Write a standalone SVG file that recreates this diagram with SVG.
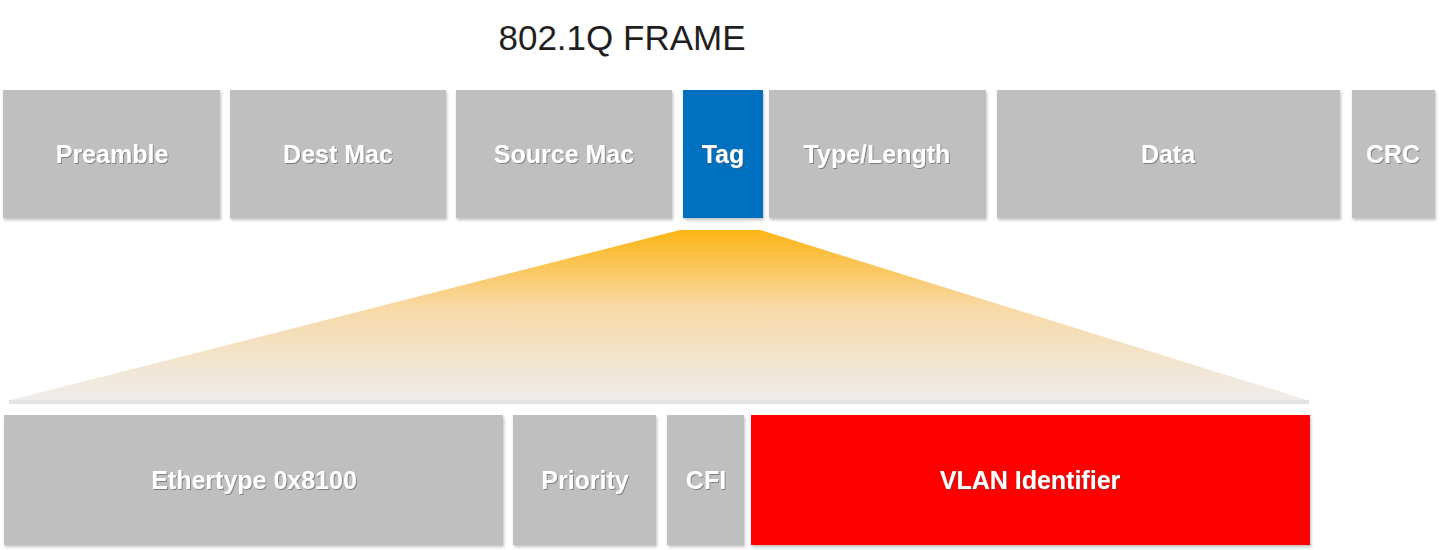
<svg xmlns="http://www.w3.org/2000/svg" width="1440" height="550" viewBox="0 0 1440 550">
  <defs>
    <linearGradient id="fan" x1="0" y1="0" x2="0" y2="1">
      <stop offset="0" stop-color="#FDB515"/>
      <stop offset="0.45" stop-color="#F8D9A6"/>
      <stop offset="1" stop-color="#EEEDEC"/>
    </linearGradient>
    <filter id="sh" x="-5%" y="-5%" width="110%" height="115%">
      <feDropShadow dx="1" dy="2" stdDeviation="1.5" flood-color="#000" flood-opacity="0.25"/>
    </filter>
    <filter id="ts" x="-10%" y="-20%" width="120%" height="140%">
      <feDropShadow dx="1" dy="1" stdDeviation="0.6" flood-color="#555" flood-opacity="0.6"/>
    </filter>
  </defs>
  <style>
    .box { filter: url(#sh); }
    .gray { fill: #BFBFBF; }
    .blue { fill: #0070C0; }
    .red { fill: #FF0000; }
    .lbl { font-family: "Liberation Sans", "Open Sans", sans-serif; font-weight: bold; font-size: 25px; fill: #FFFFFF; text-anchor: middle; filter: url(#ts); }
    .title { font-family: "Liberation Sans", "Open Sans", sans-serif; font-size: 35px; fill: #1F1F1F; text-anchor: middle; }
  </style>
  <rect width="1440" height="550" fill="#FFFFFF"/>

  <text class="title" x="622" y="50">802.1Q FRAME</text>

  <g id="connectors">
    <polygon points="680,230 760,230 1310,401 7,401" fill="url(#fan)"/>
    <rect x="9" y="400" width="1300" height="4" fill="#E3E3E3"/>
  </g>

  <g id="preamble">
    <rect class="box gray" x="3" y="90" width="217" height="128"/>
    <text class="lbl" x="112" y="163">Preamble</text>
  </g>
  <g id="dest-mac">
    <rect class="box gray" x="230" y="90" width="216" height="128"/>
    <text class="lbl" x="338" y="163">Dest Mac</text>
  </g>
  <g id="source-mac">
    <rect class="box gray" x="456" y="90" width="216" height="128"/>
    <text class="lbl" x="564" y="163">Source Mac</text>
  </g>
  <g id="tag">
    <rect class="box blue" x="683" y="90" width="80" height="128"/>
    <text class="lbl" x="723" y="163">Tag</text>
  </g>
  <g id="type-length">
    <rect class="box gray" x="769" y="90" width="217" height="128"/>
    <text class="lbl" x="877" y="163">Type/Length</text>
  </g>
  <g id="data">
    <rect class="box gray" x="997" y="90" width="343" height="128"/>
    <text class="lbl" x="1168" y="163">Data</text>
  </g>
  <g id="crc">
    <rect class="box gray" x="1352" y="90" width="83" height="128"/>
    <text class="lbl" x="1393" y="163">CRC</text>
  </g>

  <g id="ethertype">
    <rect class="box gray" x="4" y="415" width="499" height="130"/>
    <text class="lbl" x="254" y="489">Ethertype 0x8100</text>
  </g>
  <g id="priority">
    <rect class="box gray" x="513" y="415" width="143" height="130"/>
    <text class="lbl" x="585" y="489">Priority</text>
  </g>
  <g id="cfi">
    <rect class="box gray" x="667" y="415" width="77" height="130"/>
    <text class="lbl" x="706" y="489">CFI</text>
  </g>
  <g id="vlan-identifier">
    <rect class="box red" x="751" y="415" width="559" height="130"/>
    <text class="lbl" x="1030" y="489">VLAN Identifier</text>
  </g>
</svg>
